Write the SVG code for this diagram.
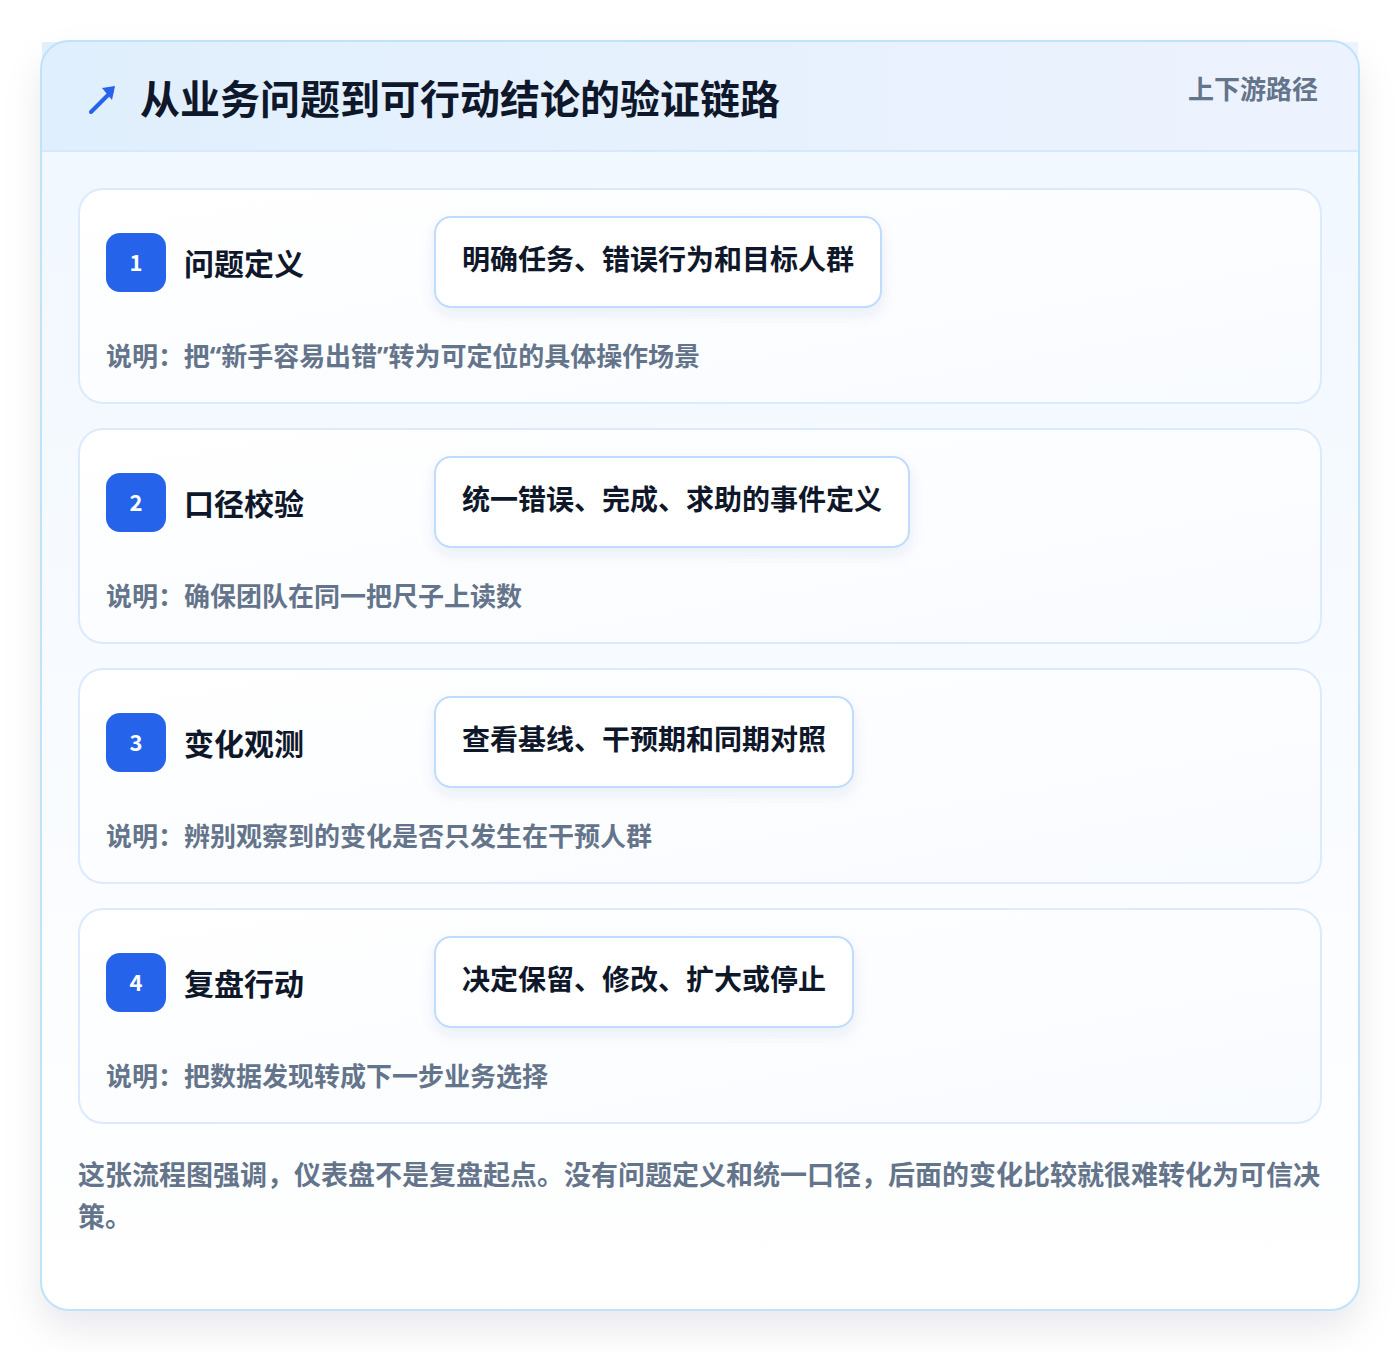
<svg xmlns="http://www.w3.org/2000/svg" width="1400" height="1352" viewBox="0 0 1400 1352">
<defs>
<linearGradient id="hdr" x1="0" y1="0" x2="1" y2="0"><stop offset="0" stop-color="#e0effd"/><stop offset="1" stop-color="#edf3fe"/></linearGradient>
<linearGradient id="body" x1="0" y1="0" x2="0" y2="1"><stop offset="0" stop-color="#f0f7ff"/><stop offset="1" stop-color="#ffffff"/></linearGradient>
<linearGradient id="cardg" x1="0" y1="0" x2="1" y2="1"><stop offset="0" stop-color="#ffffff"/><stop offset="1" stop-color="#f8fbff"/></linearGradient>
<filter id="outer" x="-10%" y="-10%" width="120%" height="120%"><feDropShadow dx="0" dy="18" stdDeviation="18" flood-color="#0f172a" flood-opacity="0.09"/></filter>
<filter id="pillsh" x="-10%" y="-30%" width="120%" height="170%"><feDropShadow dx="0" dy="6" stdDeviation="7" flood-color="#1e3a8a" flood-opacity="0.08"/></filter>
<style>
text{font-family:"Noto Sans CJK SC","Noto Sans",sans-serif;font-weight:700}
.card{fill:url(#cardg);stroke:#dbeafe;stroke-width:2}
.badge{fill:#2563eb}
.num{fill:#ffffff;font-size:22px;text-anchor:middle}
.lbl{fill:#0f172a;font-size:30px}
.pill{fill:#ffffff;stroke:#bfdbfe;stroke-width:2;filter:url(#pillsh)}
.ptx{fill:#0f172a;font-size:28px}
.desc{fill:#64748b;font-size:26px}
.q{font-family:"Noto Sans",sans-serif}
</style>
</defs>
<rect width="1400" height="1352" fill="#ffffff"/>
<g id="frame">
<rect x="41" y="41" width="1318" height="1269" rx="28" fill="url(#body)" filter="url(#outer)"/>
<rect x="42" y="42" width="1316" height="109" fill="url(#hdr)"/>
<line x1="42" y1="151" x2="1358" y2="151" stroke="#d6e8fb" stroke-width="2"/>
<rect x="41" y="41" width="1318" height="1269" rx="28" fill="none" stroke="#bfe3f8" stroke-width="2"/>
</g>
<g id="header">
<path d="M91 112 L112 91" stroke="#2563eb" stroke-width="4" stroke-linecap="round" fill="none"/>
<path d="M102 88 L115 86 L112 100 Z" fill="#2563eb"/>
<text x="140" y="114" font-size="40" font-weight="900" fill="#0f172a">从业务问题到可行动结论的验证链路</text>
<text x="1318" y="99" font-size="26" fill="#64748b" text-anchor="end">上下游路径</text>
</g>
<g id="step1">
<rect class="card" x="79" y="189" width="1242" height="214" rx="24"/>
<rect class="badge" x="106" y="233" width="60" height="59" rx="14"/>
<text class="num" x="136" y="271">1</text>
<text class="lbl" x="184" y="275">问题定义</text>
<rect class="pill" x="435" y="217" width="446" height="90" rx="16"/>
<text class="ptx" x="462" y="270">明确任务、错误行为和目标人群</text>
<text class="desc" x="106" y="366" textLength="594" lengthAdjust="spacing">说明：把<tspan class="q">“</tspan>新手容易出错<tspan class="q">”</tspan>转为可定位的具体操作场景</text>
</g>
<g id="step2">
<rect class="card" x="79" y="429" width="1242" height="214" rx="24"/>
<rect class="badge" x="106" y="473" width="60" height="59" rx="14"/>
<text class="num" x="136" y="511">2</text>
<text class="lbl" x="184" y="515">口径校验</text>
<rect class="pill" x="435" y="457" width="474" height="90" rx="16"/>
<text class="ptx" x="462" y="510">统一错误、完成、求助的事件定义</text>
<text class="desc" x="106" y="606">说明：确保团队在同一把尺子上读数</text>
</g>
<g id="step3">
<rect class="card" x="79" y="669" width="1242" height="214" rx="24"/>
<rect class="badge" x="106" y="713" width="60" height="59" rx="14"/>
<text class="num" x="136" y="751">3</text>
<text class="lbl" x="184" y="755">变化观测</text>
<rect class="pill" x="435" y="697" width="418" height="90" rx="16"/>
<text class="ptx" x="462" y="750">查看基线、干预期和同期对照</text>
<text class="desc" x="106" y="846">说明：辨别观察到的变化是否只发生在干预人群</text>
</g>
<g id="step4">
<rect class="card" x="79" y="909" width="1242" height="214" rx="24"/>
<rect class="badge" x="106" y="953" width="60" height="59" rx="14"/>
<text class="num" x="136" y="991">4</text>
<text class="lbl" x="184" y="995">复盘行动</text>
<rect class="pill" x="435" y="937" width="418" height="90" rx="16"/>
<text class="ptx" x="462" y="990">决定保留、修改、扩大或停止</text>
<text class="desc" x="106" y="1086">说明：把数据发现转成下一步业务选择</text>
</g>
<g id="connectors"/>
<g id="footer">
<text x="78" y="1185" font-size="27" fill="#64748b" textLength="1242" lengthAdjust="spacingAndGlyphs">这张流程图强调，仪表盘不是复盘起点。没有问题定义和统一口径，后面的变化比较就很难转化为可信决</text>
<text x="78" y="1227" font-size="27" fill="#64748b">策。</text>
</g>
</svg>
